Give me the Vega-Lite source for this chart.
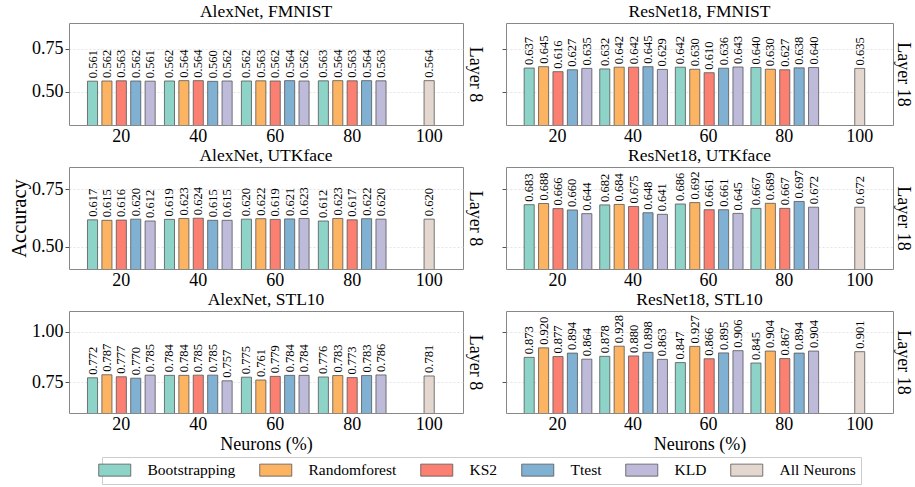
{
  "$schema": "https://vega.github.io/schema/vega-lite/v6.json",
  "background": "white",
  "padding": {"left": 9, "top": 2, "right": 3, "bottom": 3},
  "bounds": "flush",
  "columns": 2,
  "spacing": {"row": 42, "column": 43},
  "datasets": {
    "a1": [
      {"n":"20","m":"Bootstrapping","v":0.561},{"n":"20","m":"Randomforest","v":0.562},{"n":"20","m":"KS2","v":0.563},{"n":"20","m":"Ttest","v":0.562},{"n":"20","m":"KLD","v":0.561},
      {"n":"40","m":"Bootstrapping","v":0.562},{"n":"40","m":"Randomforest","v":0.564},{"n":"40","m":"KS2","v":0.564},{"n":"40","m":"Ttest","v":0.560},{"n":"40","m":"KLD","v":0.562},
      {"n":"60","m":"Bootstrapping","v":0.562},{"n":"60","m":"Randomforest","v":0.563},{"n":"60","m":"KS2","v":0.562},{"n":"60","m":"Ttest","v":0.564},{"n":"60","m":"KLD","v":0.562},
      {"n":"80","m":"Bootstrapping","v":0.563},{"n":"80","m":"Randomforest","v":0.564},{"n":"80","m":"KS2","v":0.563},{"n":"80","m":"Ttest","v":0.564},{"n":"80","m":"KLD","v":0.563},
      {"n":"100","m":"All Neurons","v":0.564}
    ],
    "r1": [
      {"n":"20","m":"Bootstrapping","v":0.637},{"n":"20","m":"Randomforest","v":0.645},{"n":"20","m":"KS2","v":0.616},{"n":"20","m":"Ttest","v":0.627},{"n":"20","m":"KLD","v":0.635},
      {"n":"40","m":"Bootstrapping","v":0.632},{"n":"40","m":"Randomforest","v":0.642},{"n":"40","m":"KS2","v":0.642},{"n":"40","m":"Ttest","v":0.645},{"n":"40","m":"KLD","v":0.629},
      {"n":"60","m":"Bootstrapping","v":0.642},{"n":"60","m":"Randomforest","v":0.630},{"n":"60","m":"KS2","v":0.610},{"n":"60","m":"Ttest","v":0.636},{"n":"60","m":"KLD","v":0.643},
      {"n":"80","m":"Bootstrapping","v":0.640},{"n":"80","m":"Randomforest","v":0.630},{"n":"80","m":"KS2","v":0.627},{"n":"80","m":"Ttest","v":0.638},{"n":"80","m":"KLD","v":0.640},
      {"n":"100","m":"All Neurons","v":0.635}
    ],
    "a2": [
      {"n":"20","m":"Bootstrapping","v":0.617},{"n":"20","m":"Randomforest","v":0.615},{"n":"20","m":"KS2","v":0.616},{"n":"20","m":"Ttest","v":0.620},{"n":"20","m":"KLD","v":0.612},
      {"n":"40","m":"Bootstrapping","v":0.619},{"n":"40","m":"Randomforest","v":0.623},{"n":"40","m":"KS2","v":0.624},{"n":"40","m":"Ttest","v":0.615},{"n":"40","m":"KLD","v":0.615},
      {"n":"60","m":"Bootstrapping","v":0.620},{"n":"60","m":"Randomforest","v":0.622},{"n":"60","m":"KS2","v":0.619},{"n":"60","m":"Ttest","v":0.621},{"n":"60","m":"KLD","v":0.623},
      {"n":"80","m":"Bootstrapping","v":0.612},{"n":"80","m":"Randomforest","v":0.623},{"n":"80","m":"KS2","v":0.617},{"n":"80","m":"Ttest","v":0.622},{"n":"80","m":"KLD","v":0.620},
      {"n":"100","m":"All Neurons","v":0.620}
    ],
    "r2": [
      {"n":"20","m":"Bootstrapping","v":0.683},{"n":"20","m":"Randomforest","v":0.688},{"n":"20","m":"KS2","v":0.666},{"n":"20","m":"Ttest","v":0.660},{"n":"20","m":"KLD","v":0.644},
      {"n":"40","m":"Bootstrapping","v":0.682},{"n":"40","m":"Randomforest","v":0.684},{"n":"40","m":"KS2","v":0.675},{"n":"40","m":"Ttest","v":0.648},{"n":"40","m":"KLD","v":0.641},
      {"n":"60","m":"Bootstrapping","v":0.686},{"n":"60","m":"Randomforest","v":0.692},{"n":"60","m":"KS2","v":0.661},{"n":"60","m":"Ttest","v":0.661},{"n":"60","m":"KLD","v":0.645},
      {"n":"80","m":"Bootstrapping","v":0.667},{"n":"80","m":"Randomforest","v":0.689},{"n":"80","m":"KS2","v":0.667},{"n":"80","m":"Ttest","v":0.697},{"n":"80","m":"KLD","v":0.672},
      {"n":"100","m":"All Neurons","v":0.672}
    ],
    "a3": [
      {"n":"20","m":"Bootstrapping","v":0.772},{"n":"20","m":"Randomforest","v":0.787},{"n":"20","m":"KS2","v":0.777},{"n":"20","m":"Ttest","v":0.770},{"n":"20","m":"KLD","v":0.785},
      {"n":"40","m":"Bootstrapping","v":0.784},{"n":"40","m":"Randomforest","v":0.784},{"n":"40","m":"KS2","v":0.785},{"n":"40","m":"Ttest","v":0.785},{"n":"40","m":"KLD","v":0.757},
      {"n":"60","m":"Bootstrapping","v":0.775},{"n":"60","m":"Randomforest","v":0.761},{"n":"60","m":"KS2","v":0.779},{"n":"60","m":"Ttest","v":0.784},{"n":"60","m":"KLD","v":0.784},
      {"n":"80","m":"Bootstrapping","v":0.776},{"n":"80","m":"Randomforest","v":0.783},{"n":"80","m":"KS2","v":0.773},{"n":"80","m":"Ttest","v":0.783},{"n":"80","m":"KLD","v":0.786},
      {"n":"100","m":"All Neurons","v":0.781}
    ],
    "r3": [
      {"n":"20","m":"Bootstrapping","v":0.873},{"n":"20","m":"Randomforest","v":0.920},{"n":"20","m":"KS2","v":0.877},{"n":"20","m":"Ttest","v":0.894},{"n":"20","m":"KLD","v":0.864},
      {"n":"40","m":"Bootstrapping","v":0.878},{"n":"40","m":"Randomforest","v":0.928},{"n":"40","m":"KS2","v":0.880},{"n":"40","m":"Ttest","v":0.898},{"n":"40","m":"KLD","v":0.863},
      {"n":"60","m":"Bootstrapping","v":0.847},{"n":"60","m":"Randomforest","v":0.927},{"n":"60","m":"KS2","v":0.866},{"n":"60","m":"Ttest","v":0.895},{"n":"60","m":"KLD","v":0.906},
      {"n":"80","m":"Bootstrapping","v":0.845},{"n":"80","m":"Randomforest","v":0.904},{"n":"80","m":"KS2","v":0.867},{"n":"80","m":"Ttest","v":0.894},{"n":"80","m":"KLD","v":0.904},
      {"n":"100","m":"All Neurons","v":0.901}
    ]
  },
  "concat": [
    {
      "title": "AlexNet, FMNIST", "width": 394, "height": 102, "data": {"name": "a1"},
      "resolve": {"axis": {"y": "independent"}},
      "layer": [
        {"transform": [{"filter": "datum.m !== 'All Neurons'"}],
         "mark": {"type": "bar", "clip": true, "stroke": "#555", "strokeWidth": 0.8},
         "encoding": {
           "x": {"field": "n", "type": "ordinal", "title": null, "scale": {"domain": ["20","40","60","80","100"], "paddingInner": 0.12, "paddingOuter": 0.12, "align": 1}, "axis": {"labelAngle": 0, "ticks": false, "grid": false, "labelPadding": 2, "labelFont": "Liberation Serif", "labelFontSize": 18}},
           "xOffset": {"field": "m", "type": "nominal", "scale": {"domain": ["Bootstrapping","Randomforest","KS2","Ttest","KLD"], "paddingInner": 0.3, "paddingOuter": 0}},
           "y": {"field": "v", "type": "quantitative", "scale": {"domain": [0.307, 0.898], "zero": false, "nice": false}, "axis": {"values": [0.5, 0.75], "format": ".2f", "title": null, "labelFont": "Liberation Serif", "labelFontSize": 18}},
           "color": {"field": "m", "type": "nominal", "title": null, "scale": {"domain": ["Bootstrapping","Randomforest","KS2","Ttest","KLD","All Neurons"], "range": ["#8dd3c7","#fdb462","#fb8072","#80b1d3","#bebada","#e4d7cf"]}}
         }},
        {"transform": [{"filter": "datum.m === 'All Neurons'"}],
         "mark": {"type": "bar", "clip": true, "stroke": "#555", "strokeWidth": 0.8, "width": {"band": 0.15}},
         "encoding": {
           "x": {"field": "n", "type": "ordinal", "title": null},
           "y": {"field": "v", "type": "quantitative", "scale": {"domain": [0.307, 0.898], "zero": false, "nice": false}, "axis": null},
           "color": {"field": "m", "type": "nominal", "title": null}
         }},
        {"transform": [{"filter": "datum.m !== 'All Neurons'"}],
         "mark": {"type": "text", "angle": 270, "align": "left", "baseline": "middle", "dx": 3, "font": "Liberation Serif", "fontSize": 12.5},
         "encoding": {
           "x": {"field": "n", "type": "ordinal", "title": null},
           "xOffset": {"field": "m", "type": "nominal"},
           "y": {"field": "v", "type": "quantitative", "axis": null},
           "text": {"field": "v", "type": "quantitative", "format": ".3f"}
         }},
        {"transform": [{"filter": "datum.m === 'All Neurons'"}],
         "mark": {"type": "text", "angle": 270, "align": "left", "baseline": "middle", "dx": 3, "font": "Liberation Serif", "fontSize": 12.5},
         "encoding": {
           "x": {"field": "n", "type": "ordinal", "title": null},
           "y": {"field": "v", "type": "quantitative", "axis": {"orient": "right", "title": "Layer 8", "titleAngle": 90, "titleFont": "Liberation Serif", "titleFontSize": 18, "labels": false, "ticks": false, "grid": false, "domain": false, "titlePadding": 2}},
           "text": {"field": "v", "type": "quantitative", "format": ".3f"}
         }}
      ]
    },
    {
      "title": "ResNet18, FMNIST", "width": 387, "height": 102, "data": {"name": "r1"},
      "resolve": {"axis": {"y": "independent"}},
      "layer": [
        {"transform": [{"filter": "datum.m !== 'All Neurons'"}],
         "mark": {"type": "bar", "clip": true, "stroke": "#555", "strokeWidth": 0.8},
         "encoding": {
           "x": {"field": "n", "type": "ordinal", "title": null, "scale": {"domain": ["20","40","60","80","100"], "paddingInner": 0.12, "paddingOuter": 0.12, "align": 1}, "axis": {"labelAngle": 0, "ticks": false, "grid": false, "labelPadding": 2, "labelFont": "Liberation Serif", "labelFontSize": 18}},
           "xOffset": {"field": "m", "type": "nominal", "scale": {"domain": ["Bootstrapping","Randomforest","KS2","Ttest","KLD"], "paddingInner": 0.3, "paddingOuter": 0}},
           "y": {"field": "v", "type": "quantitative", "scale": {"domain": [0.307, 0.898], "zero": false, "nice": false}, "axis": {"values": [0.5, 0.75], "labels": false, "title": null}},
           "color": {"field": "m", "type": "nominal", "title": null}
         }},
        {"transform": [{"filter": "datum.m === 'All Neurons'"}],
         "mark": {"type": "bar", "clip": true, "stroke": "#555", "strokeWidth": 0.8, "width": {"band": 0.15}},
         "encoding": {
           "x": {"field": "n", "type": "ordinal", "title": null},
           "y": {"field": "v", "type": "quantitative", "scale": {"domain": [0.307, 0.898], "zero": false, "nice": false}, "axis": null},
           "color": {"field": "m", "type": "nominal", "title": null}
         }},
        {"transform": [{"filter": "datum.m !== 'All Neurons'"}],
         "mark": {"type": "text", "angle": 270, "align": "left", "baseline": "middle", "dx": 3, "font": "Liberation Serif", "fontSize": 12.5},
         "encoding": {
           "x": {"field": "n", "type": "ordinal", "title": null},
           "xOffset": {"field": "m", "type": "nominal"},
           "y": {"field": "v", "type": "quantitative", "axis": null},
           "text": {"field": "v", "type": "quantitative", "format": ".3f"}
         }},
        {"transform": [{"filter": "datum.m === 'All Neurons'"}],
         "mark": {"type": "text", "angle": 270, "align": "left", "baseline": "middle", "dx": 3, "font": "Liberation Serif", "fontSize": 12.5},
         "encoding": {
           "x": {"field": "n", "type": "ordinal", "title": null},
           "y": {"field": "v", "type": "quantitative", "axis": {"orient": "right", "title": "Layer 18", "titleAngle": 90, "titleFont": "Liberation Serif", "titleFontSize": 18, "labels": false, "ticks": false, "grid": false, "domain": false, "titlePadding": 0}},
           "text": {"field": "v", "type": "quantitative", "format": ".3f"}
         }}
      ]
    },
    {
      "title": "AlexNet, UTKface", "width": 394, "height": 102, "data": {"name": "a2"},
      "resolve": {"axis": {"y": "independent"}},
      "layer": [
        {"transform": [{"filter": "datum.m !== 'All Neurons'"}],
         "mark": {"type": "bar", "clip": true, "stroke": "#555", "strokeWidth": 0.8},
         "encoding": {
           "x": {"field": "n", "type": "ordinal", "title": null, "scale": {"domain": ["20","40","60","80","100"], "paddingInner": 0.12, "paddingOuter": 0.12, "align": 1}, "axis": {"labelAngle": 0, "ticks": false, "grid": false, "labelPadding": 2, "labelFont": "Liberation Serif", "labelFontSize": 18}},
           "xOffset": {"field": "m", "type": "nominal", "scale": {"domain": ["Bootstrapping","Randomforest","KS2","Ttest","KLD"], "paddingInner": 0.3, "paddingOuter": 0}},
           "y": {"field": "v", "type": "quantitative", "scale": {"domain": [0.403, 0.847], "zero": false, "nice": false}, "axis": {"values": [0.5, 0.75], "format": ".2f", "title": "Accuracy", "titlePadding": 2, "titleFont": "Liberation Serif", "titleFontSize": 20.5, "labelFont": "Liberation Serif", "labelFontSize": 18}},
           "color": {"field": "m", "type": "nominal", "title": null}
         }},
        {"transform": [{"filter": "datum.m === 'All Neurons'"}],
         "mark": {"type": "bar", "clip": true, "stroke": "#555", "strokeWidth": 0.8, "width": {"band": 0.15}},
         "encoding": {
           "x": {"field": "n", "type": "ordinal", "title": null},
           "y": {"field": "v", "type": "quantitative", "scale": {"domain": [0.403, 0.847], "zero": false, "nice": false}, "axis": null},
           "color": {"field": "m", "type": "nominal", "title": null}
         }},
        {"transform": [{"filter": "datum.m !== 'All Neurons'"}],
         "mark": {"type": "text", "angle": 270, "align": "left", "baseline": "middle", "dx": 3, "font": "Liberation Serif", "fontSize": 12.5},
         "encoding": {
           "x": {"field": "n", "type": "ordinal", "title": null},
           "xOffset": {"field": "m", "type": "nominal"},
           "y": {"field": "v", "type": "quantitative", "axis": null},
           "text": {"field": "v", "type": "quantitative", "format": ".3f"}
         }},
        {"transform": [{"filter": "datum.m === 'All Neurons'"}],
         "mark": {"type": "text", "angle": 270, "align": "left", "baseline": "middle", "dx": 3, "font": "Liberation Serif", "fontSize": 12.5},
         "encoding": {
           "x": {"field": "n", "type": "ordinal", "title": null},
           "y": {"field": "v", "type": "quantitative", "axis": {"orient": "right", "title": "Layer 8", "titleAngle": 90, "titleFont": "Liberation Serif", "titleFontSize": 18, "labels": false, "ticks": false, "grid": false, "domain": false, "titlePadding": 2}},
           "text": {"field": "v", "type": "quantitative", "format": ".3f"}
         }}
      ]
    },
    {
      "title": "ResNet18, UTKface", "width": 387, "height": 102, "data": {"name": "r2"},
      "resolve": {"axis": {"y": "independent"}},
      "layer": [
        {"transform": [{"filter": "datum.m !== 'All Neurons'"}],
         "mark": {"type": "bar", "clip": true, "stroke": "#555", "strokeWidth": 0.8},
         "encoding": {
           "x": {"field": "n", "type": "ordinal", "title": null, "scale": {"domain": ["20","40","60","80","100"], "paddingInner": 0.12, "paddingOuter": 0.12, "align": 1}, "axis": {"labelAngle": 0, "ticks": false, "grid": false, "labelPadding": 2, "labelFont": "Liberation Serif", "labelFontSize": 18}},
           "xOffset": {"field": "m", "type": "nominal", "scale": {"domain": ["Bootstrapping","Randomforest","KS2","Ttest","KLD"], "paddingInner": 0.3, "paddingOuter": 0}},
           "y": {"field": "v", "type": "quantitative", "scale": {"domain": [0.403, 0.847], "zero": false, "nice": false}, "axis": {"values": [0.5, 0.75], "labels": false, "title": null}},
           "color": {"field": "m", "type": "nominal", "title": null}
         }},
        {"transform": [{"filter": "datum.m === 'All Neurons'"}],
         "mark": {"type": "bar", "clip": true, "stroke": "#555", "strokeWidth": 0.8, "width": {"band": 0.15}},
         "encoding": {
           "x": {"field": "n", "type": "ordinal", "title": null},
           "y": {"field": "v", "type": "quantitative", "scale": {"domain": [0.403, 0.847], "zero": false, "nice": false}, "axis": null},
           "color": {"field": "m", "type": "nominal", "title": null}
         }},
        {"transform": [{"filter": "datum.m !== 'All Neurons'"}],
         "mark": {"type": "text", "angle": 270, "align": "left", "baseline": "middle", "dx": 3, "font": "Liberation Serif", "fontSize": 12.5},
         "encoding": {
           "x": {"field": "n", "type": "ordinal", "title": null},
           "xOffset": {"field": "m", "type": "nominal"},
           "y": {"field": "v", "type": "quantitative", "axis": null},
           "text": {"field": "v", "type": "quantitative", "format": ".3f"}
         }},
        {"transform": [{"filter": "datum.m === 'All Neurons'"}],
         "mark": {"type": "text", "angle": 270, "align": "left", "baseline": "middle", "dx": 3, "font": "Liberation Serif", "fontSize": 12.5},
         "encoding": {
           "x": {"field": "n", "type": "ordinal", "title": null},
           "y": {"field": "v", "type": "quantitative", "axis": {"orient": "right", "title": "Layer 18", "titleAngle": 90, "titleFont": "Liberation Serif", "titleFontSize": 18, "labels": false, "ticks": false, "grid": false, "domain": false, "titlePadding": 0}},
           "text": {"field": "v", "type": "quantitative", "format": ".3f"}
         }}
      ]
    },
    {
      "title": "AlexNet, STL10", "width": 394, "height": 102, "data": {"name": "a3"},
      "resolve": {"axis": {"y": "independent"}},
      "layer": [
        {"transform": [{"filter": "datum.m !== 'All Neurons'"}],
         "mark": {"type": "bar", "clip": true, "stroke": "#555", "strokeWidth": 0.8},
         "encoding": {
           "x": {"field": "n", "type": "ordinal", "title": "Neurons (%)", "scale": {"domain": ["20","40","60","80","100"], "paddingInner": 0.12, "paddingOuter": 0.12, "align": 1}, "axis": {"labelAngle": 0, "ticks": false, "grid": false, "labelPadding": 2, "titlePadding": 2, "labelFont": "Liberation Serif", "labelFontSize": 18, "titleFont": "Liberation Serif", "titleFontSize": 18}},
           "xOffset": {"field": "m", "type": "nominal", "scale": {"domain": ["Bootstrapping","Randomforest","KS2","Ttest","KLD"], "paddingInner": 0.3, "paddingOuter": 0}},
           "y": {"field": "v", "type": "quantitative", "scale": {"domain": [0.598, 1.102], "zero": false, "nice": false}, "axis": {"values": [0.75, 1.0], "format": ".2f", "title": null, "labelFont": "Liberation Serif", "labelFontSize": 18}},
           "color": {"field": "m", "type": "nominal", "title": null}
         }},
        {"transform": [{"filter": "datum.m === 'All Neurons'"}],
         "mark": {"type": "bar", "clip": true, "stroke": "#555", "strokeWidth": 0.8, "width": {"band": 0.15}},
         "encoding": {
           "x": {"field": "n", "type": "ordinal", "title": "Neurons (%)"},
           "y": {"field": "v", "type": "quantitative", "scale": {"domain": [0.598, 1.102], "zero": false, "nice": false}, "axis": null},
           "color": {"field": "m", "type": "nominal", "title": null}
         }},
        {"transform": [{"filter": "datum.m !== 'All Neurons'"}],
         "mark": {"type": "text", "angle": 270, "align": "left", "baseline": "middle", "dx": 3, "font": "Liberation Serif", "fontSize": 12.5},
         "encoding": {
           "x": {"field": "n", "type": "ordinal", "title": "Neurons (%)"},
           "xOffset": {"field": "m", "type": "nominal"},
           "y": {"field": "v", "type": "quantitative", "axis": null},
           "text": {"field": "v", "type": "quantitative", "format": ".3f"}
         }},
        {"transform": [{"filter": "datum.m === 'All Neurons'"}],
         "mark": {"type": "text", "angle": 270, "align": "left", "baseline": "middle", "dx": 3, "font": "Liberation Serif", "fontSize": 12.5},
         "encoding": {
           "x": {"field": "n", "type": "ordinal", "title": "Neurons (%)"},
           "y": {"field": "v", "type": "quantitative", "axis": {"orient": "right", "title": "Layer 8", "titleAngle": 90, "titleFont": "Liberation Serif", "titleFontSize": 18, "labels": false, "ticks": false, "grid": false, "domain": false, "titlePadding": 2}},
           "text": {"field": "v", "type": "quantitative", "format": ".3f"}
         }}
      ]
    },
    {
      "title": "ResNet18, STL10", "width": 387, "height": 102, "data": {"name": "r3"},
      "resolve": {"axis": {"y": "independent"}},
      "layer": [
        {"transform": [{"filter": "datum.m !== 'All Neurons'"}],
         "mark": {"type": "bar", "clip": true, "stroke": "#555", "strokeWidth": 0.8},
         "encoding": {
           "x": {"field": "n", "type": "ordinal", "title": "Neurons (%)", "scale": {"domain": ["20","40","60","80","100"], "paddingInner": 0.12, "paddingOuter": 0.12, "align": 1}, "axis": {"labelAngle": 0, "ticks": false, "grid": false, "labelPadding": 2, "titlePadding": 2, "labelFont": "Liberation Serif", "labelFontSize": 18, "titleFont": "Liberation Serif", "titleFontSize": 18}},
           "xOffset": {"field": "m", "type": "nominal", "scale": {"domain": ["Bootstrapping","Randomforest","KS2","Ttest","KLD"], "paddingInner": 0.3, "paddingOuter": 0}},
           "y": {"field": "v", "type": "quantitative", "scale": {"domain": [0.598, 1.102], "zero": false, "nice": false}, "axis": {"values": [0.75, 1.0], "labels": false, "title": null}},
           "color": {"field": "m", "type": "nominal", "title": null}
         }},
        {"transform": [{"filter": "datum.m === 'All Neurons'"}],
         "mark": {"type": "bar", "clip": true, "stroke": "#555", "strokeWidth": 0.8, "width": {"band": 0.15}},
         "encoding": {
           "x": {"field": "n", "type": "ordinal", "title": "Neurons (%)"},
           "y": {"field": "v", "type": "quantitative", "scale": {"domain": [0.598, 1.102], "zero": false, "nice": false}, "axis": null},
           "color": {"field": "m", "type": "nominal", "title": null}
         }},
        {"transform": [{"filter": "datum.m !== 'All Neurons'"}],
         "mark": {"type": "text", "angle": 270, "align": "left", "baseline": "middle", "dx": 3, "font": "Liberation Serif", "fontSize": 12.5},
         "encoding": {
           "x": {"field": "n", "type": "ordinal", "title": "Neurons (%)"},
           "xOffset": {"field": "m", "type": "nominal"},
           "y": {"field": "v", "type": "quantitative", "axis": null},
           "text": {"field": "v", "type": "quantitative", "format": ".3f"}
         }},
        {"transform": [{"filter": "datum.m === 'All Neurons'"}],
         "mark": {"type": "text", "angle": 270, "align": "left", "baseline": "middle", "dx": 3, "font": "Liberation Serif", "fontSize": 12.5},
         "encoding": {
           "x": {"field": "n", "type": "ordinal", "title": "Neurons (%)"},
           "y": {"field": "v", "type": "quantitative", "axis": {"orient": "right", "title": "Layer 18", "titleAngle": 90, "titleFont": "Liberation Serif", "titleFontSize": 18, "labels": false, "ticks": false, "grid": false, "domain": false, "titlePadding": 0}},
           "text": {"field": "v", "type": "quantitative", "format": ".3f"}
         }}
      ]
    }
  ],
  "config": {
    "font": "Liberation Serif",
    "text": {"font": "Liberation Serif", "fontSize": 12.5, "color": "#000"},
    "view": {"stroke": "#888", "strokeWidth": 1},
    "title": {"font": "Liberation Serif", "fontSize": 17.5, "fontWeight": "normal", "offset": 3, "color": "#000"},
    "axis": {"labelFont": "Liberation Serif", "titleFont": "Liberation Serif", "labelFontSize": 18, "titleFontSize": 20.5, "titleFontWeight": "normal", "labelColor": "#000", "titleColor": "#000", "gridColor": "#dddddd", "gridDash": [2, 2], "gridWidth": 0.8, "tickColor": "#555", "tickSize": 4, "domain": false, "labelPadding": 2},
    "legend": {"orient": "none", "legendX": 33, "legendY": 434, "direction": "horizontal", "columns": 6, "labelFont": "Liberation Serif", "symbolType": "M-2.67,-1H2.67V1H-2.67Z", "symbolSize": 144, "symbolStrokeColor": "#555", "symbolStrokeWidth": 0.8, "symbolOpacity": 1, "labelFontSize": 15.5, "labelOffset": 25, "columnPadding": 22, "padding": 5, "strokeColor": "#cccccc", "labelColor": "#000"}
  }
}
